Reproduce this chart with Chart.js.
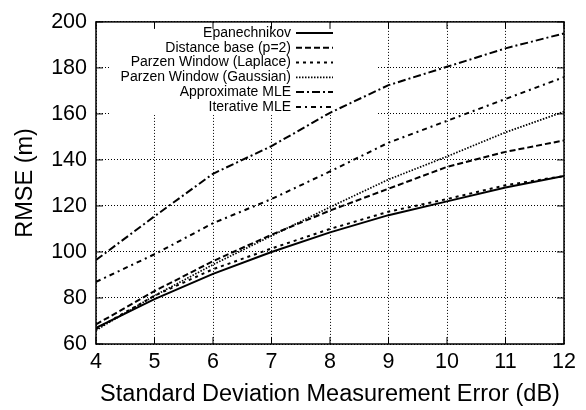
<!DOCTYPE html>
<html>
<head>
<meta charset="utf-8">
<script src="https://cdn.jsdelivr.net/npm/chart.js@4"></script>
<style>
  html, body { margin: 0; padding: 0; background: #fff; }
  #wrap { width: 586px; height: 410px; }
</style>
</head>
<body>
<div id="wrap"><canvas id="canvas" width="586" height="410"></canvas></div>
<script>
// Dữ liệu
const errors = [4, 5, 6, 7, 8, 9, 10, 11, 12]
const epanechnikov = [67, 79.5, 90.5, 100, 108.5, 116, 122, 128, 133]
const distanceBase = [68.5, 83, 96, 107.5, 118, 127.5, 137, 143.5, 148.5]
const parzenLaplace = [66.5, 81, 92.5, 101.5, 110, 117.5, 123, 129, 133]
const parzenGaussian = [66, 81, 94.5, 107, 119.5, 131.5, 141.5, 152, 161]
const approxMle = [96.5, 115.5, 134, 146, 160.5, 172.5, 180.5, 188.5, 195]
const iterativeMle = [87, 99, 112.5, 123, 135, 147.5, 157, 166.5, 176]

const seriesNames = [
  'Epanechnikov',
  'Distance base (p=2)',
  'Parzen Window (Laplace)',
  'Parzen Window (Gaussian)',
  'Approximate MLE',
  'Iterative MLE',
]
const seriesValues = [epanechnikov, distanceBase, parzenLaplace, parzenGaussian, approxMle, iterativeMle]
const dashes = [[], [6, 3], [3, 4], [1.5, 1.5], [8, 3, 2, 3], [5, 4, 2, 4]]
const widths = [2, 2, 2, 1.7, 2, 2]

const FONT = "'Liberation Sans', Arial, Helvetica, sans-serif"

const datasets = seriesNames.map((name, i) => ({
  label: name,
  data: errors.map((x, j) => ({ x: x, y: seriesValues[i][j] })),
  borderColor: '#000',
  backgroundColor: '#000',
  borderWidth: widths[i],
  borderDash: dashes[i],
  pointRadius: 0,
  tension: 0,
  fill: false,
}))

// Chú thích kiểu gnuplot: chữ căn phải, mẫu nét bên phải
const keyPlugin = {
  id: 'gnuKey',
  beforeDatasetsDraw(chart) {
    const ctx = chart.ctx
    const area = chart.chartArea
    ctx.save()
    ctx.fillStyle = '#fff'
    ctx.fillRect(area.left + 14, area.top + 1, 268, 92)
    ctx.font = '14px ' + FONT
    ctx.textAlign = 'right'
    ctx.textBaseline = 'middle'
    chart.data.datasets.forEach((ds, i) => {
      const y = area.top + 11 + i * 14.8
      ctx.fillStyle = '#000'
      ctx.fillText(ds.label, area.left + 195, y)
      ctx.beginPath()
      ctx.strokeStyle = '#000'
      ctx.lineWidth = ds.borderWidth
      ctx.setLineDash(ds.borderDash)
      ctx.moveTo(area.left + 200, y)
      ctx.lineTo(area.left + 237, y)
      ctx.stroke()
    })
    ctx.restore()
  },
  afterDatasetsDraw(chart) {
    // khung và vạch chia hướng vào trong
    const ctx = chart.ctx
    const a = chart.chartArea
    const xs = chart.scales.x
    const ys = chart.scales.y
    ctx.save()
    ctx.strokeStyle = '#000'
    ctx.lineWidth = 1.5
    ctx.setLineDash([])
    ctx.strokeRect(a.left, a.top, a.right - a.left, a.bottom - a.top)
    ctx.lineWidth = 1
    ctx.beginPath()
    xs.ticks.forEach(t => {
      const px = xs.getPixelForValue(t.value)
      ctx.moveTo(px, a.bottom); ctx.lineTo(px, a.bottom - 7)
      ctx.moveTo(px, a.top); ctx.lineTo(px, a.top + 7)
    })
    ys.ticks.forEach(t => {
      const py = ys.getPixelForValue(t.value)
      ctx.moveTo(a.left, py); ctx.lineTo(a.left + 7, py)
      ctx.moveTo(a.right, py); ctx.lineTo(a.right - 7, py)
    })
    ctx.stroke()
    ctx.restore()
  },
}

const config = {
  type: 'line',
  data: { datasets: datasets },
  options: {
    responsive: false,
    animation: false,
    layout: { padding: { top: 15, right: 22, bottom: 0, left: 0 } },
    plugins: {
      legend: { display: false },
      tooltip: { enabled: false },
    },
    scales: {
      x: {
        type: 'linear',
        min: 4,
        max: 12,
        ticks: { stepSize: 1, color: '#000', padding: 5, font: { family: FONT, size: 21.5 } },
        grid: { color: '#000', lineWidth: 1, drawTicks: false },
        border: { display: false, dash: [1, 2] },
        title: {
          display: true,
          text: 'Standard Deviation Measurement Error (dB)',
          color: '#000',
          font: { family: FONT, size: 23.5 },
          padding: { top: 0, bottom: 1 },
        },
        afterFit(scale) { scale.height = 66 },
      },
      y: {
        min: 60,
        max: 200,
        ticks: { stepSize: 20, color: '#000', padding: 9, font: { family: FONT, size: 21.5 } },
        grid: { color: '#000', lineWidth: 1, drawTicks: false },
        border: { display: false, dash: [1, 2] },
        title: {
          display: true,
          text: 'RMSE (m)',
          color: '#000',
          font: { family: FONT, size: 23.5 },
          padding: { top: 11.5, bottom: 0 },
        },
        afterFit(scale) { scale.width = 96 },
      },
    },
  },
  plugins: [keyPlugin],
}

const canvas = document.getElementById('canvas')
const chart = new Chart(canvas, config)
</script>
</body>
</html>
